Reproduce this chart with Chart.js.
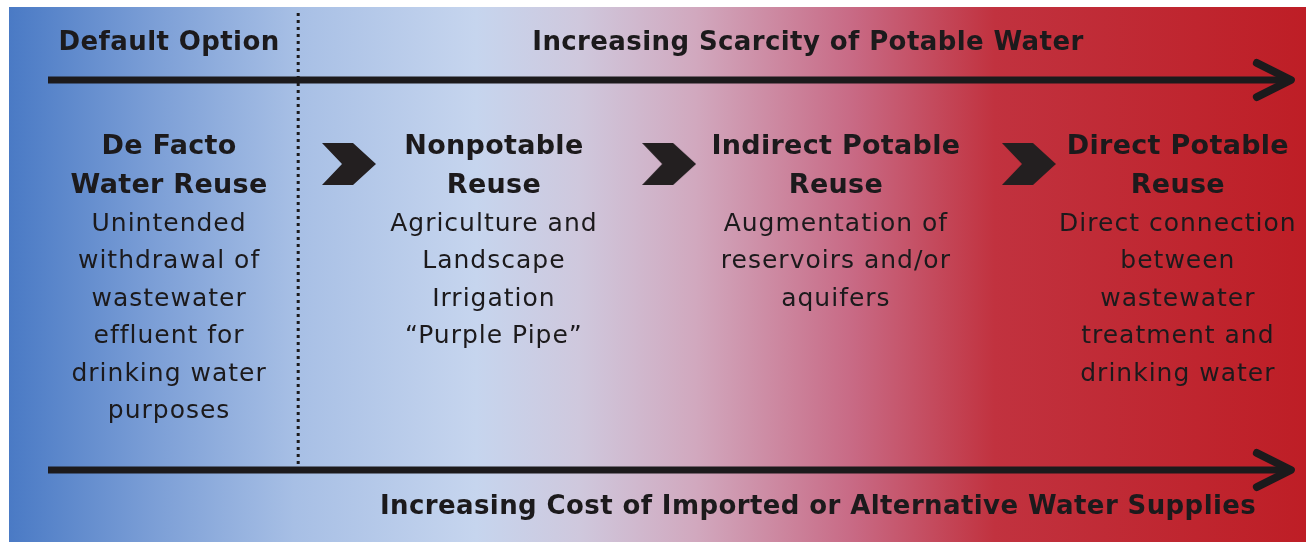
<!DOCTYPE html>
<html>
<head>
<meta charset="utf-8">
<script src="https://cdn.jsdelivr.net/npm/chart.js@4.4.1/dist/chart.umd.min.js"></script>
<style>
html, body { margin: 0; padding: 0; background: #fff; }
#wrap {
    position: absolute; left: 9px; top: 7px; width: 1297px; height: 535px;
    background: linear-gradient(to right, #4a7ac5 0%, #7b9ed6 11%, #a7bfe5 22%, #c6d5ee 36%, #cfc8dd 44%, #d1a8be 53%, #c86a85 65%, #c1323f 76%, #be1e26 100%);
}
canvas { display: block; }
</style>
</head>
<body>
<div id="wrap"><canvas id="flowChart" width="1297" height="535"></canvas></div>
<script>
// stages, left to right
const stageTitles = [
    ["De Facto", "Water Reuse"],
    ["Nonpotable", "Reuse"],
    ["Indirect Potable", "Reuse"],
    ["Direct Potable", "Reuse"]
];
const stageNotes = [
    ["Unintended", "withdrawal of", "wastewater", "effluent for", "drinking water", "purposes"],
    ["Agriculture and", "Landscape", "Irrigation", "\u201CPurple Pipe\u201D"],
    ["Augmentation of", "reservoirs and/or", "aquifers"],
    ["Direct connection", "between", "wastewater", "treatment and", "drinking water"]
];
const defaultLabel = "Default Option";
const scarcityLabel = "Increasing Scarcity of Potable Water";
const costLabel = "Increasing Cost of Imported or Alternative Water Supplies";

// layout (x in stage units, y in px of the panel, top -> bottom)
const INK = "#1c1a1c";
const FONT = "'DejaVu Sans'";
const STAGE_POS = [0, 0.966, 1.983, 3];
const CHEVRON_POS = [0.535, 1.487, 2.557];
const TOP_ARROW_Y = 73, BOTTOM_ARROW_Y = 463;
const ARROW_START = -0.36, ARROW_END = 3.336, HEAD_BACK = 3.235, HEAD_HALF = 17;
const DIVIDER_X = 0.384;
const TITLE_Y = 140, TITLE_STEP = 39, NOTE_Y = 217, NOTE_STEP = 37.5;

function chevronImage() {
    const c = document.createElement("canvas");
    c.width = 54; c.height = 42;
    const g = c.getContext("2d");
    g.fillStyle = "#231f20";
    g.beginPath();
    g.moveTo(0, 0); g.lineTo(31, 0); g.lineTo(54, 21); g.lineTo(31, 42);
    g.lineTo(0, 42); g.lineTo(20, 21); g.closePath();
    g.fill();
    return c;
}

function arrow(y) {
    return [
        { type: "line", data: [{ x: ARROW_START, y: y }, { x: ARROW_END, y: y }], borderColor: INK, borderWidth: 7, pointRadius: 0 },
        { type: "line", data: [{ x: HEAD_BACK, y: y - HEAD_HALF }, { x: ARROW_END, y: y }, { x: HEAD_BACK, y: y + HEAD_HALF }],
          borderColor: INK, borderWidth: 8, pointRadius: 0, borderCapStyle: "round", borderJoinStyle: "round" }
    ];
}

const textPlugin = {
    id: "stageText",
    afterDatasetsDraw(chart) {
        const ctx = chart.ctx, xs = chart.scales.x, ys = chart.scales.y;
        ctx.save();
        ctx.fillStyle = INK;
        ctx.textAlign = "center";
        ctx.textBaseline = "middle";

        ctx.font = "bold 26px " + FONT;
        ctx.letterSpacing = "0.4px";
        ctx.fillText(defaultLabel, xs.getPixelForValue(0), ys.getPixelForValue(36));
        ctx.fillText(scarcityLabel, xs.getPixelForValue(1.9), ys.getPixelForValue(36));
        ctx.fillText(costLabel, xs.getPixelForValue(1.93), ys.getPixelForValue(500));

        stageTitles.forEach((lines, i) => {
            const x = xs.getPixelForValue(STAGE_POS[i]);
            ctx.font = "bold 27px " + FONT;
            ctx.letterSpacing = "0.3px";
            lines.forEach((t, j) => ctx.fillText(t, x, ys.getPixelForValue(TITLE_Y + j * TITLE_STEP)));
            ctx.font = "25px " + FONT;
            ctx.letterSpacing = "1px";
            stageNotes[i].forEach((t, j) => ctx.fillText(t, x, ys.getPixelForValue(NOTE_Y + j * NOTE_STEP)));
        });
        ctx.restore();
    }
};

const chevron = chevronImage();

new Chart(document.getElementById("flowChart"), {
    type: "scatter",
    data: {
        datasets: [
            ...arrow(TOP_ARROW_Y),
            ...arrow(BOTTOM_ARROW_Y),
            { type: "line", data: [{ x: DIVIDER_X, y: 6 }, { x: DIVIDER_X, y: 458 }], borderColor: INK, borderWidth: 3, borderDash: [3, 4], pointRadius: 0 },
            { data: CHEVRON_POS.map(x => ({ x: x, y: 157 })), pointStyle: chevron, pointRadius: 20 }
        ]
    },
    options: {
        responsive: false,
        animation: false,
        layout: { padding: 0, autoPadding: false },
        scales: {
            x: { type: "linear", min: -0.476, max: 3.381, display: false },
            y: { type: "linear", min: 0, max: 535, reverse: true, display: false }
        },
        plugins: { legend: { display: false }, tooltip: { enabled: false } }
    },
    plugins: [textPlugin]
});
</script>
</body>
</html>
